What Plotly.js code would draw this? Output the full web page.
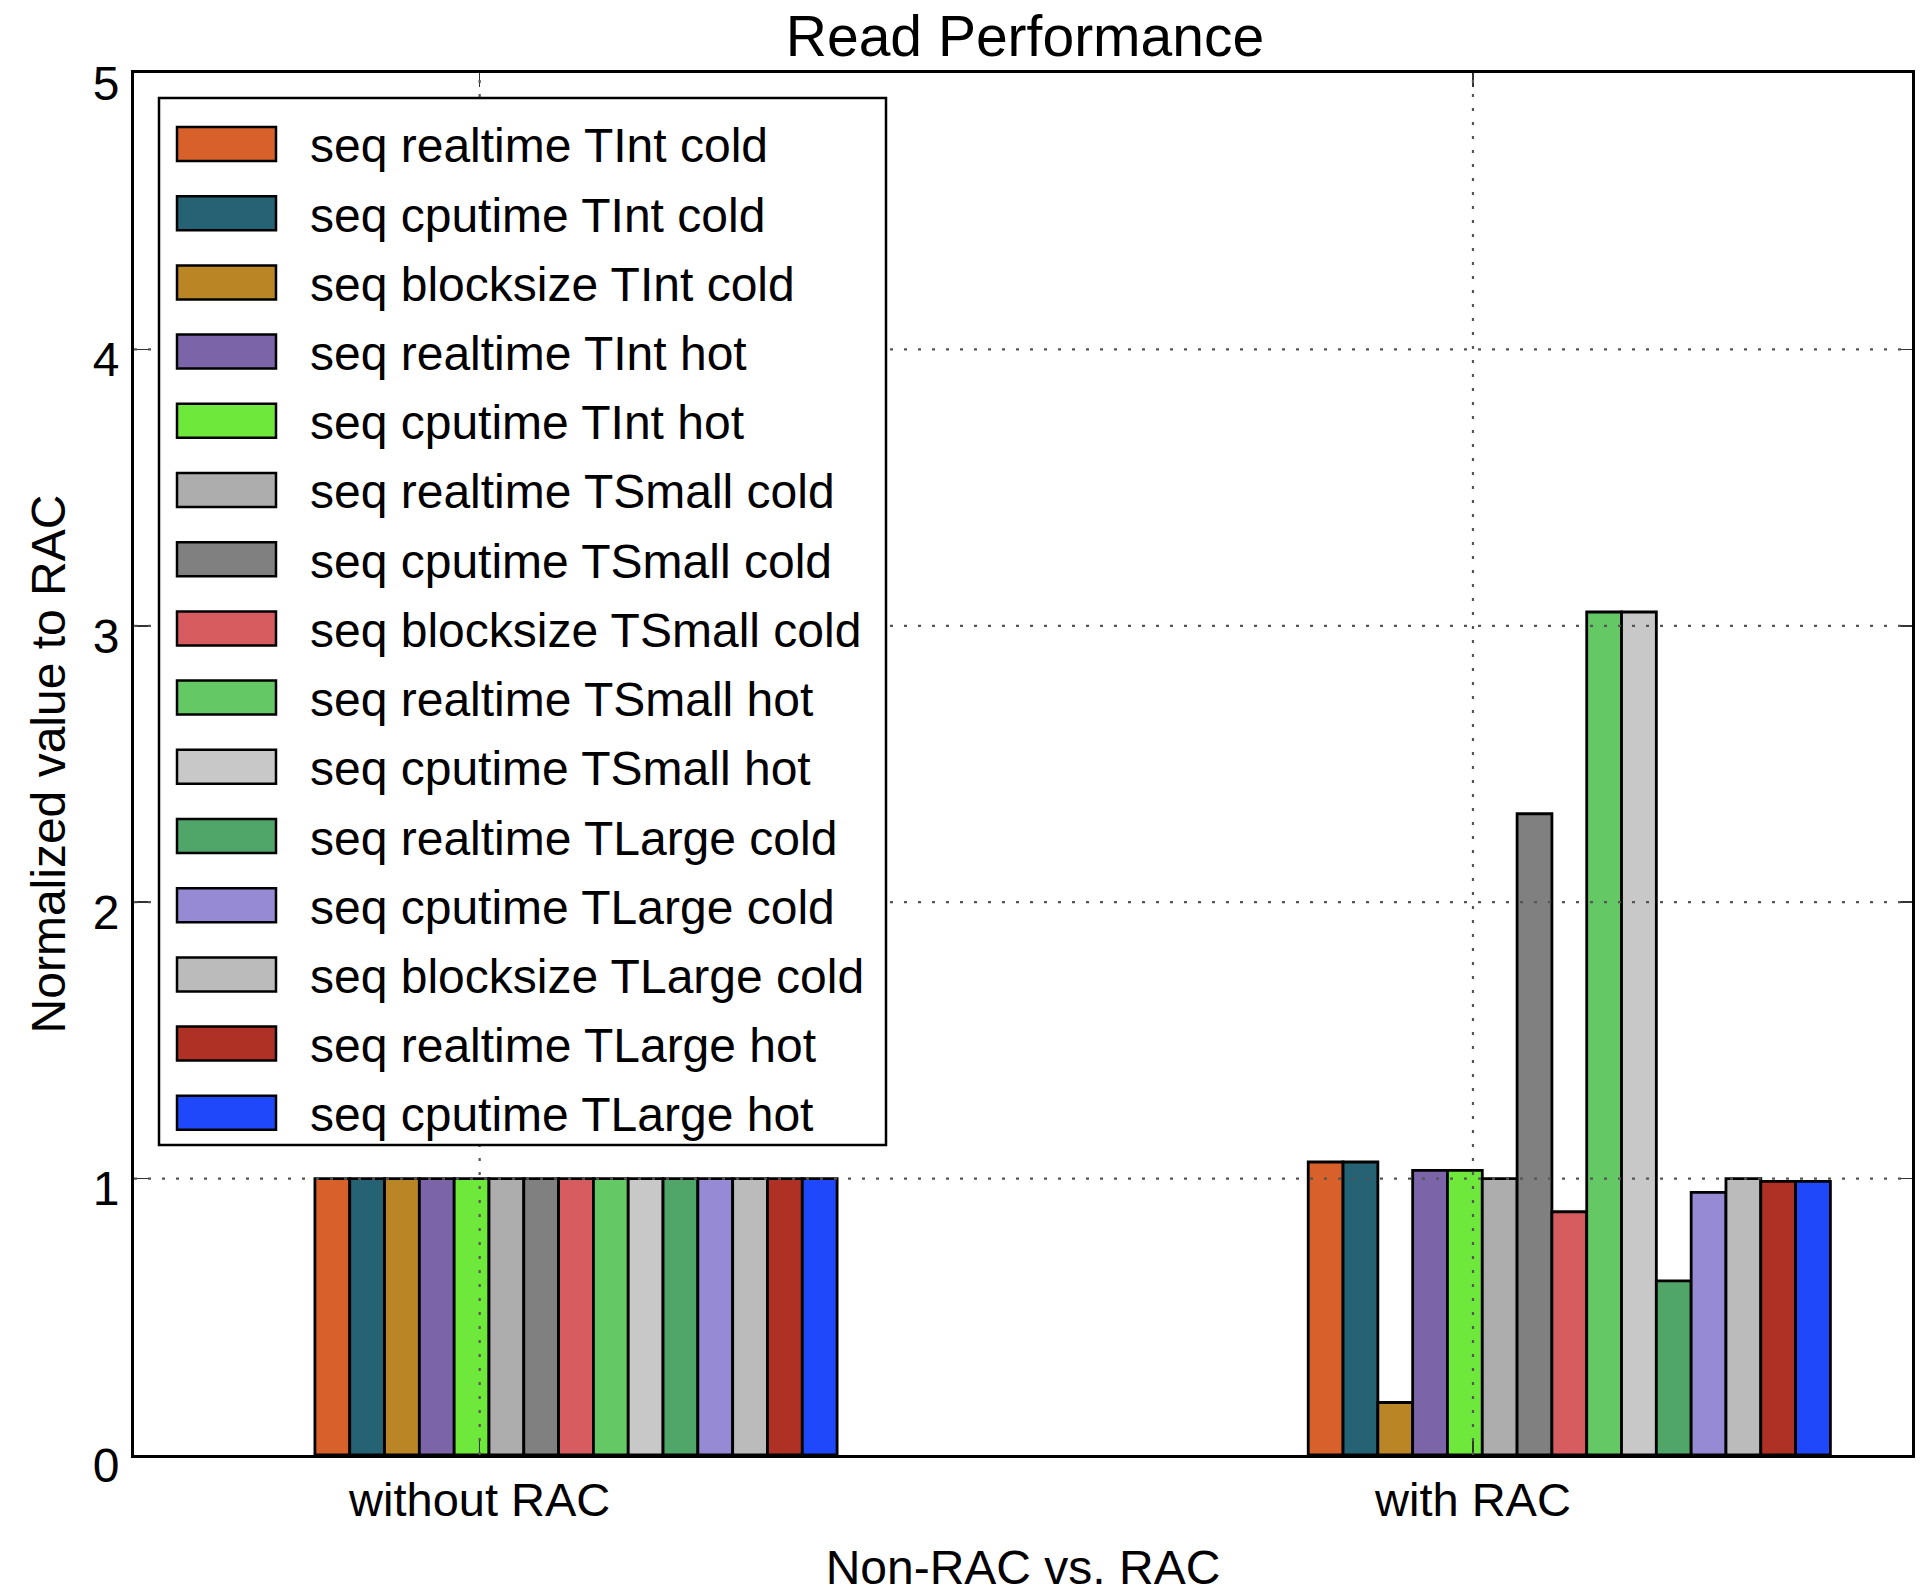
<!DOCTYPE html>
<html>
<head>
<meta charset="utf-8">
<script src="https://cdn.plot.ly/plotly-3.0.1.min.js"></script>
<style>html,body{margin:0;padding:0;background:#fff;}</style>
</head>
<body>
<div id="chart" style="width:1930px;height:1594px;"></div>
<script>
// ---------------- data ----------------
const categories = ["without RAC", "with RAC"];
const seriesNames = [
  "seq realtime TInt cold",
  "seq cputime TInt cold",
  "seq blocksize TInt cold",
  "seq realtime TInt hot",
  "seq cputime TInt hot",
  "seq realtime TSmall cold",
  "seq cputime TSmall cold",
  "seq blocksize TSmall cold",
  "seq realtime TSmall hot",
  "seq cputime TSmall hot",
  "seq realtime TLarge cold",
  "seq cputime TLarge cold",
  "seq blocksize TLarge cold",
  "seq realtime TLarge hot",
  "seq cputime TLarge hot"
];
const seriesColors = [
  "#D8602A", "#256273", "#B98525", "#7B65A8", "#6EE83A",
  "#ADADAD", "#808080", "#D65C60", "#64C864", "#C8C8C8",
  "#50A569", "#968AD4", "#BBBBBB", "#AF3024", "#1E48FA"
];
const withoutRAC = [1, 1, 1, 1, 1, 1, 1, 1, 1, 1, 1, 1, 1, 1, 1];
const withRAC = [1.06, 1.06, 0.19, 1.03, 1.03, 1.00, 2.32, 0.88, 3.05, 3.05, 0.63, 0.95, 1.00, 0.99, 0.99];
const yTicks = [0, 1, 2, 3, 4, 5];
const chartTitle = "Read Performance";
const xTitle = "Non-RAC vs. RAC";
const yTitle = "Normalized value to RAC";

// ---------------- layout constants ----------------
const W = 1930, H = 1594;
const ML = 134, MR = 18, MT = 73, MB = 139;
const plotW = W - ML - MR, plotH = H - MT - MB;
const FONT = "Liberation Sans, Arial, Helvetica, sans-serif";
const tickShift = -0.097;   // MATLAB-style tick offset from bar group centre
const px2x = p => (p - ML) / plotW;
const py2y = p => (H - MB - p) / plotH;

// ---------------- traces ----------------
const traces = seriesNames.map((name, i) => ({
  type: "bar",
  name: name,
  x: categories,
  y: [withoutRAC[i], withRAC[i]],
  marker: { color: seriesColors[i], line: { color: "#000", width: 2.8 } },
  showlegend: false,
  hoverinfo: "skip"
}));

// ---------------- grid (drawn above bars, like the original) ----------------
const gridLine = { color: "#555555", width: 2.2, dash: "3px,11px" };
const shapes = [];
categories.forEach((c, k) => {
  shapes.push({ type: "line", layer: "above", xref: "x", yref: "paper",
    x0: k + tickShift, x1: k + tickShift, y0: 0, y1: 1, line: gridLine });
});
yTicks.filter(v => v > yTicks[0] && v < yTicks[yTicks.length - 1]).forEach(v => {
  shapes.push({ type: "line", layer: "above", xref: "paper", yref: "y",
    x0: 0, x1: 1, y0: v, y1: v, line: gridLine });
});

// ---------------- legend (large swatches like the original) ----------------
const LEG = { left: 159, top: 98, right: 886, bottom: 1145,
  swL: 177, swR: 276, swH: 34, row0: 144, rowStep: 69.2, textX: 308 };
shapes.push({ type: "rect", layer: "above", xref: "paper", yref: "paper",
  x0: px2x(LEG.left), x1: px2x(LEG.right), y0: py2y(LEG.bottom), y1: py2y(LEG.top),
  fillcolor: "#fff", line: { color: "#000", width: 2.5 } });
const annotations = [];
seriesNames.forEach((name, i) => {
  const cy = LEG.row0 + LEG.rowStep * i;
  shapes.push({ type: "rect", layer: "above", xref: "paper", yref: "paper",
    x0: px2x(LEG.swL), x1: px2x(LEG.swR),
    y0: py2y(cy + LEG.swH / 2), y1: py2y(cy - LEG.swH / 2),
    fillcolor: seriesColors[i], line: { color: "#000", width: 2.5 } });
  annotations.push({ xref: "paper", yref: "paper", x: px2x(LEG.textX), y: py2y(cy + 2),
    xanchor: "left", yanchor: "middle", showarrow: false, text: name,
    font: { family: FONT, size: 48, color: "#000" } });
});

// ---------------- layout ----------------
const layout = {
  width: W, height: H,
  margin: { l: ML, r: MR, t: MT, b: MB, pad: 0 },
  paper_bgcolor: "#fff", plot_bgcolor: "#fff",
  font: { family: FONT, size: 47, color: "#000" },
  showlegend: false,
  barmode: "group", bargap: 0.4743, bargroupgap: 0,
  title: { text: chartTitle, font: { family: FONT, size: 57, color: "#000" },
    x: 1025 / W, xanchor: "center",
    y: 1 - 36 / H, yanchor: "middle" },
  xaxis: {
    type: "category", range: [-0.445, 1.345], autorange: false,
    tickmode: "array", tickvals: categories.map((c, k) => k + tickShift), ticktext: categories,
    ticks: "inside", ticklen: 14, tickwidth: 1.5, tickcolor: "#333",
    showline: true, linewidth: 3, linecolor: "#000", mirror: "ticks",
    showgrid: false, zeroline: false, layer: "above traces",
    tickfont: { family: FONT, size: 47, color: "#000" }, ticklabelstandoff: 2,
    title: { text: xTitle, font: { family: FONT, size: 48, color: "#000" }, standoff: 26 },
    automargin: false, fixedrange: true
  },
  yaxis: {
    range: [0, 5], autorange: false,
    tickmode: "array", tickvals: yTicks, ticktext: yTicks.map(String),
    ticks: "inside", ticklen: 14, tickwidth: 1.5, tickcolor: "#333",
    showline: true, linewidth: 3, linecolor: "#000", mirror: "ticks",
    showgrid: false, zeroline: false, layer: "above traces",
    tickfont: { family: FONT, size: 48, color: "#000" }, ticklabelstandoff: 2, ticklabelshift: 10,
    title: { text: yTitle, font: { family: FONT, size: 48, color: "#000" }, standoff: 12 },
    automargin: false, fixedrange: true
  },
  shapes: shapes,
  annotations: annotations
};

Plotly.newPlot("chart", traces, layout, { staticPlot: true, displayModeBar: false });
</script>
</body>
</html>
